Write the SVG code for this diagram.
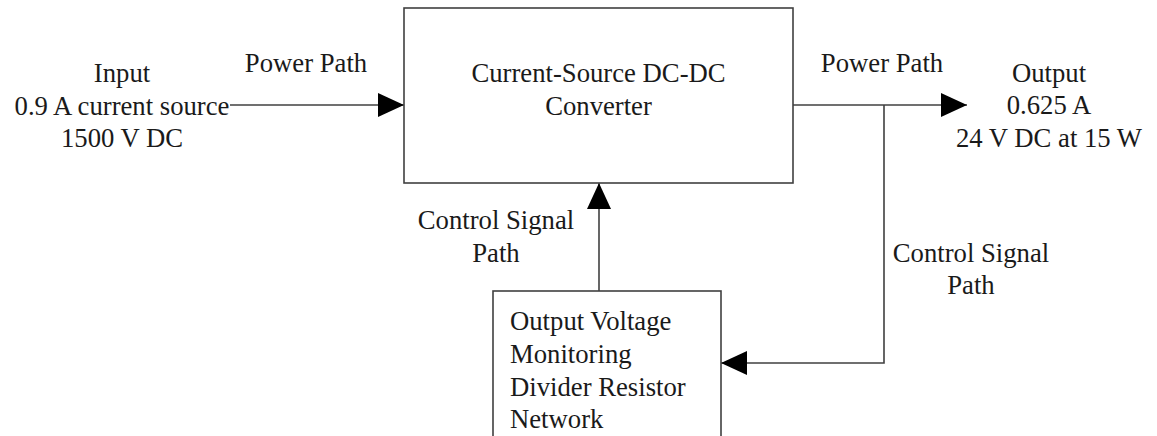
<svg xmlns="http://www.w3.org/2000/svg" width="1157" height="436" viewBox="0 0 1157 436" font-family="'Liberation Serif', 'Times New Roman', Times, serif">
<style>
.box{fill:#fff;stroke:#404040;stroke-width:1.6}
.ln{fill:none;stroke:#404040;stroke-width:1.6}
.t{font-family:'Liberation Serif','Times New Roman',Times,serif;font-size:26.7px;fill:#1a1a1a}
.c{text-anchor:middle}
</style>
<defs>
<marker id="ah" markerWidth="26" markerHeight="24" refX="26" refY="12" orient="auto" markerUnits="userSpaceOnUse">
<path d="M0,0 L26,12 L0,24 Z" fill="#000"/>
</marker>
</defs>
<rect width="1157" height="436" fill="#fff"/>
<g id="connectors">
<line class="ln" x1="230" y1="105" x2="404" y2="105" marker-end="url(#ah)"/>
<line class="ln" x1="793" y1="105" x2="967" y2="105" marker-end="url(#ah)"/>
<polyline class="ln" points="884,105 884,363 721,363" marker-end="url(#ah)"/>
<line class="ln" x1="599" y1="291" x2="599" y2="183" marker-end="url(#ah)"/>
<text class="t c" x="306" y="72">Power Path</text>
<text class="t c" x="882" y="72">Power Path</text>
<text class="t c" x="496" y="229">Control Signal</text>
<text class="t c" x="496" y="262">Path</text>
<text class="t c" x="971" y="262">Control Signal</text>
<text class="t c" x="971" y="294">Path</text>
</g>
<g id="input">
<text class="t c" x="122" y="82">Input</text>
<text class="t c" x="122" y="115">0.9 A current source</text>
<text class="t c" x="122" y="147">1500 V DC</text>
</g>
<g id="converter">
<rect class="box" x="404" y="8" width="389" height="175"/>
<text class="t c" x="598.5" y="82">Current-Source DC-DC</text>
<text class="t c" x="598.5" y="115">Converter</text>
</g>
<g id="output">
<text class="t c" x="1049" y="82">Output</text>
<text class="t c" x="1049" y="114">0.625 A</text>
<text class="t c" x="1049" y="147">24 V DC at 15 W</text>
</g>
<g id="monitor">
<rect class="box" x="493" y="291" width="228" height="170"/>
<text class="t" x="510" y="330">Output Voltage</text>
<text class="t" x="510" y="363">Monitoring</text>
<text class="t" x="510" y="396">Divider Resistor</text>
<text class="t" x="510" y="428">Network</text>
</g>
</svg>
